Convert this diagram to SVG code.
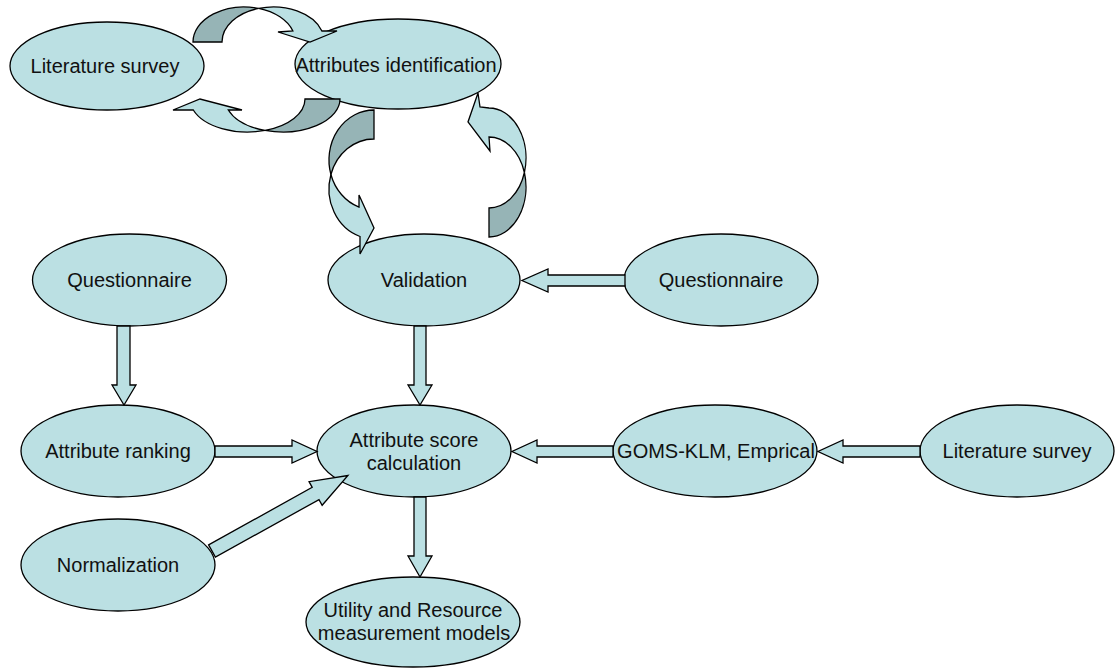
<svg xmlns="http://www.w3.org/2000/svg" width="1119" height="671" viewBox="0 0 1119 671">
<style>
.node ellipse{fill:#BBE0E3;stroke:#000;stroke-width:1.3}
.node text{font-family:"Liberation Sans",Arial,sans-serif;font-size:20px;fill:#111;text-anchor:middle}
.arr{fill:#BBE0E3;stroke:#000;stroke-width:1.3;stroke-linejoin:miter}
.back{fill:#96B4B6;stroke:#000;stroke-width:1.3;stroke-linejoin:miter}
</style>
<rect width="1119" height="671" fill="#fff"/>
<g id="n_lit1" class="node"><ellipse cx="107" cy="66" rx="97" ry="44"/><text x="105" y="73">Literature survey</text></g>
<g id="n_attrid" class="node"><ellipse cx="398" cy="64" rx="103" ry="45"/><text x="396" y="71.5">Attributes identification</text></g>
<g id="n_valid" class="node"><ellipse cx="424" cy="280" rx="96" ry="46"/><text x="424" y="287">Validation</text></g>
<g id="n_quest1" class="node"><ellipse cx="129.5" cy="280" rx="97" ry="46"/><text x="129.5" y="287">Questionnaire</text></g>
<g id="n_quest2" class="node"><ellipse cx="721" cy="280" rx="97" ry="46"/><text x="721" y="287">Questionnaire</text></g>
<g id="n_rank" class="node"><ellipse cx="118" cy="451" rx="97" ry="46"/><text x="118" y="458">Attribute ranking</text></g>
<g id="n_score" class="node"><ellipse cx="414" cy="451" rx="97" ry="46"/><text x="414" y="446.5">Attribute score</text><text x="414" y="470">calculation</text></g>
<g id="n_norm" class="node"><ellipse cx="118" cy="565" rx="97" ry="46"/><text x="118" y="572">Normalization</text></g>
<g id="n_goms" class="node"><ellipse cx="715" cy="451" rx="102" ry="46"/><text x="716" y="458">GOMS-KLM, Emprical</text></g>
<g id="n_lit2" class="node"><ellipse cx="1017" cy="451" rx="97" ry="46"/><text x="1017" y="458">Literature survey</text></g>
<g id="n_util" class="node"><ellipse cx="413" cy="622" rx="107" ry="45"/><text x="413" y="617">Utility and Resource</text><text x="414" y="640">measurement models</text></g>
<g id="connectors">
<path class="back" d="M193,42 A51.25,35 0 0,1 258.75,8.4 A51.25,35 0 0,0 222,42 Z"/>
<path class="arr" d="M258.75,8.4 A51.25,35 0 0,1 321.9,31 L337,31 L310,42 L278,32 L292.9,31 A51.25,35 0 0,0 258.75,8.4 Z"/>
<path class="back" d="M340,99 A57.5,33 0 0,1 265,130.4 A57.5,33 0 0,0 305,99 Z"/>
<path class="arr" d="M265,130.4 A57.5,33 0 0,1 193.3,110 L173,110 L200,99 L242,110 L228.3,110 A57.5,33 0 0,0 265,130.4 Z"/>
<path class="back" d="M374,110 A45,50 0 0,0 330.9,174.5 A45,50 0 0,1 374,139 Z"/>
<path class="arr" d="M330.9,174.5 A45,50 0 0,0 360,236.5 L360,254 L374,228 L359,195 L359,207.1 A45,50 0 0,1 330.9,174.5 Z"/>
<path class="back" d="M489,208 L489,237 A37,50 0 0,0 524.4,172.5 A37,50 0 0,1 489,208 Z"/>
<path class="arr" d="M524.4,172.5 A37,50 0 0,0 489,108 L480,107 L478,93 L468,122 L490,151 L489,137 A37,50 0 0,1 524.4,172.5 Z"/>
<path class="arr" d="M117,326 L130,326 L130,385 L136,385 L124,405 L112,385 L117,385 Z"/>
<path class="arr" d="M414,326 L426,326 L426,385 L432,385 L420,405 L408,385 L414,385 Z"/>
<path class="arr" d="M414,497 L426,497 L426,556 L432,556 L420,577 L408,556 L414,556 Z"/>
<path class="arr" d="M215,446 L292,446 L292,440 L317,451.5 L292,463 L292,457 L215,457 Z"/>
<path class="arr" d="M625,275 L548,275 L548,269 L522,280.5 L548,292 L548,286 L625,286 Z"/>
<path class="arr" d="M613,446 L537,446 L537,440 L512,451.5 L537,463 L537,457 L613,457 Z"/>
<path class="arr" d="M920,446 L843,446 L843,440 L818,451.5 L843,463 L843,457 L920,457 Z"/>
<path class="arr" transform="translate(212,551) rotate(-29.04)" d="M0,-7 L118.5,-7 L118.5,-13.5 L155.5,0 L118.5,13.5 L118.5,7 L0,7 Z"/>
</g>
</svg>
